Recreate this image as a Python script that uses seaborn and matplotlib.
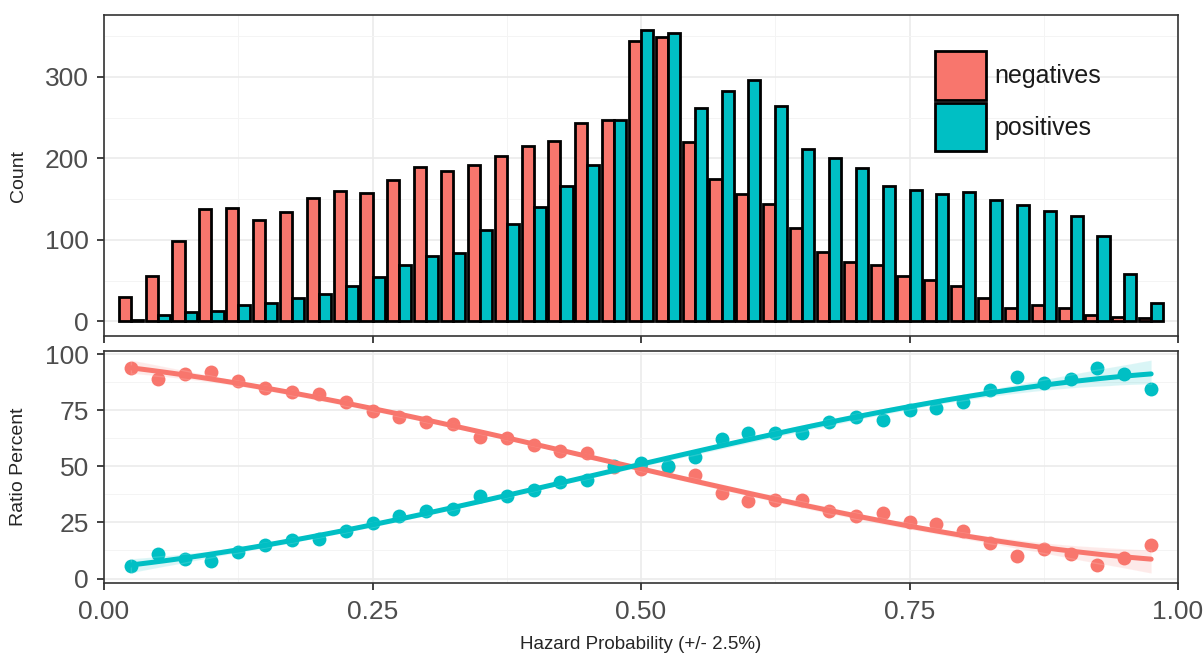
import numpy as np
import matplotlib
matplotlib.use("Agg")
import matplotlib.pyplot as plt
import pandas as pd
import seaborn as sns
from matplotlib.ticker import MultipleLocator

# bin centres (hazard probability, 2.5% wide bins)
bins = [0.025, 0.05, 0.075, 0.1, 0.125, 0.15, 0.175, 0.2, 0.225, 0.25,
        0.275, 0.3, 0.325, 0.35, 0.375, 0.4, 0.425, 0.45, 0.475, 0.5,
        0.525, 0.55, 0.575, 0.6, 0.625, 0.65, 0.675, 0.7, 0.725, 0.75,
        0.775, 0.8, 0.825, 0.85, 0.875, 0.9, 0.925, 0.95, 0.975]

neg_counts = [30, 56, 99, 138, 139, 124, 134, 152, 160, 157,
              173, 190, 184, 192, 203, 215, 221, 244, 247, 344,
              349, 220, 175, 156, 144, 115, 85, 73, 69, 56,
              51, 43, 29, 16, 20, 16, 8, 6, 4]
pos_counts = [2, 8, 11, 13, 20, 23, 29, 34, 43, 54,
              69, 80, 84, 112, 119, 140, 166, 192, 247, 358,
              354, 262, 283, 296, 264, 211, 200, 188, 166, 161,
              156, 159, 149, 143, 135, 129, 105, 58, 22]

neg_ratio = [94.1, 89.2, 91.3, 92.1, 87.9, 84.9, 83.0, 82.1, 78.8, 74.8,
             71.9, 69.9, 68.9, 63.0, 62.5, 59.7, 56.7, 56.0, 49.6, 48.9,
             49.6, 46.2, 38.2, 34.5, 34.8, 34.8, 30.1, 27.9, 29.3, 25.2,
             24.1, 21.2, 16.0, 10.1, 13.0, 10.8, 5.9, 9.2, 14.8]
pos_ratio = [5.5, 11.1, 8.9, 7.7, 11.9, 14.8, 17.0, 17.8, 21.0, 24.9,
             27.9, 30.1, 30.8, 37.0, 37.0, 39.7, 43.0, 44.0, 50.4, 51.6,
             50.4, 54.1, 62.2, 64.9, 64.9, 64.9, 69.9, 71.9, 70.8, 75.1,
             76.0, 78.8, 84.0, 90.1, 87.0, 89.2, 94.1, 91.1, 84.7]

classes = ["negatives", "positives"]
palette = {"negatives": "#F8766D", "positives": "#00BFC4"}

sns.set_style("white")
plt.rcParams["font.family"] = ["Liberation Sans", "DejaVu Sans"]

counts = pd.DataFrame({
    "bin": bins * 2,
    "count": neg_counts + pos_counts,
    "type": [classes[0]] * len(bins) + [classes[1]] * len(bins),
})

fig = plt.figure(figsize=(12.04, 6.56), dpi=100)
ax1 = fig.add_axes([0.0864, 0.4878, 0.892, 0.4893])
ax2 = fig.add_axes([0.0864, 0.1113, 0.892, 0.3537])

# --- top: counts per bin ---
sns.barplot(data=counts, x="bin", y="count", hue="type", hue_order=classes,
            palette=palette, native_scale=True, width=0.9, edgecolor="black",
            linewidth=2.0, saturation=1, ax=ax1)
ax1.set_ylim(-17.9, 376)
ax1.set_ylabel("Count", fontsize=14)
ax1.set_xlabel("")
ax1.tick_params(axis="x", labelbottom=False)

leg = ax1.legend(title=None, frameon=False, fontsize=18, loc="upper left",
                 bbox_to_anchor=(922 / 1204, 1 - 39 / 656),
                 bbox_transform=fig.transFigure, borderpad=0,
                 handlelength=2.05, handleheight=2.6, labelspacing=0.12,
                 handletextpad=0.35)
for t in leg.get_texts():
    t.set_color("#1A1A1A")

# --- bottom: ratio with smooth fit ---
for name, vals in [("negatives", neg_ratio), ("positives", pos_ratio)]:
    sns.regplot(x=bins, y=vals, order=3, ci=95, seed=3, ax=ax2,
                color=palette[name], scatter_kws={"s": 100, "linewidths": 0, "alpha": 1},
                line_kws={"lw": 3.6})
ax2.set_ylim(-2, 101.5)
ax2.set_ylabel("Ratio Percent", fontsize=14)
ax2.set_xlabel("Hazard Probability (+/- 2.5%)", fontsize=13.5)
ax2.xaxis.set_label_coords(0.5, -0.23)

for ax, major, minor in [(ax1, 100, 50), (ax2, 25, 12.5)]:
    ax.set_xlim(0, 1)
    ax.xaxis.set_major_locator(MultipleLocator(0.25))
    ax.xaxis.set_minor_locator(MultipleLocator(0.125))
    ax.yaxis.set_major_locator(MultipleLocator(major))
    ax.yaxis.set_minor_locator(MultipleLocator(minor))
    ax.grid(which="major", color="#EBEBEB", lw=1.2)
    ax.grid(which="minor", color="#F4F4F4", lw=0.7)
    ax.set_axisbelow(True)
    ax.tick_params(which="major", length=5, width=1.3, color="#333333",
                   labelsize=19, labelcolor="#4D4D4D", bottom=True, left=True)
    ax.tick_params(axis="x", which="major", pad=7)
    ax.tick_params(axis="y", which="major", pad=6)
    ax.tick_params(which="minor", length=0)
    for s in ax.spines.values():
        s.set_visible(True)
        s.set_color("#333333")
        s.set_linewidth(1.2)
    ax.yaxis.set_label_coords(-0.072, 0.5)

ax2.set_xticks([0, 0.25, 0.5, 0.75, 1.0])
ax2.set_xticklabels(["0.00", "0.25", "0.50", "0.75", "1.00"])

fig.savefig("out.png", dpi=100)
